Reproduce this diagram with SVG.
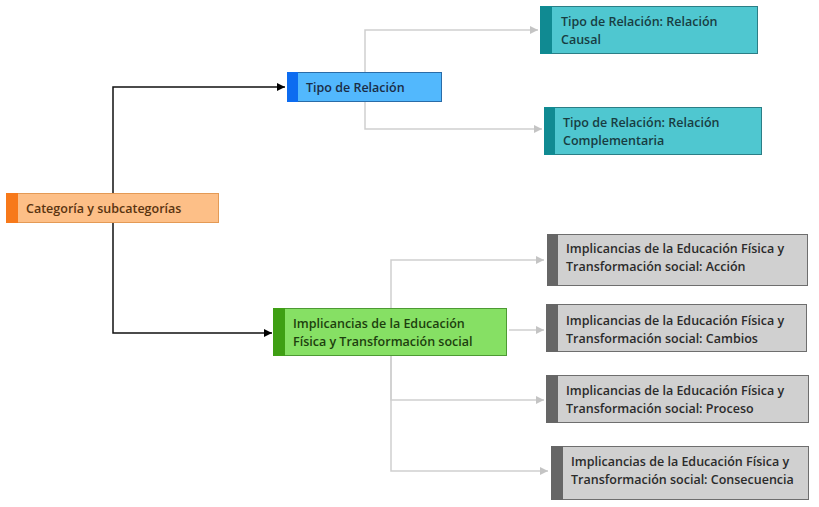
<svg xmlns="http://www.w3.org/2000/svg" width="819" height="507" viewBox="0 0 819 507">
<defs>
<marker id="ab" viewBox="0 0 10 10" refX="10" refY="5" markerWidth="8" markerHeight="8" markerUnits="userSpaceOnUse" orient="auto"><path d="M0,0 L10,5 L0,10 z" fill="#000"/></marker>
<marker id="ag" viewBox="0 0 10 10" refX="10" refY="5" markerWidth="8" markerHeight="9" markerUnits="userSpaceOnUse" orient="auto"><path d="M0,0 L10,5 L0,10 z" fill="#c4c4c4"/></marker>
<style>
text{font-family:"Open Sans","Noto Sans","DejaVu Sans",sans-serif;font-size:12.5px;font-weight:600}
.k{fill:none;stroke:#111;stroke-width:1.5}
.g{fill:none;stroke:#cfcfcf;stroke-width:1.5}
.or rect.b{fill:#fdbf87;stroke:#e49a55}
.or rect.s{fill:#f7791a}
.or text{fill:#5a3410}
.bl rect.b{fill:#52b8fd;stroke:#2a6ca8}
.bl rect.s{fill:#0d6cf0}
.bl text{fill:#1b2c45}
.te rect.b{fill:#4fc7d0;stroke:#2b7e86}
.te rect.s{fill:#108a92}
.te text{fill:#183d42}
.gr rect.b{fill:#86e064;stroke:#4d9a33}
.gr rect.s{fill:#3f9f14}
.gr text{fill:#1d3f0e}
.gy rect.b{fill:#d0d0d0;stroke:#6e6e6e}
.gy rect.s{fill:#666}
.gy text{fill:#2b2b2b}
</style>
</defs>
<g id="connectors">
<path class="k" d="M113,193 V87 H285" marker-end="url(#ab)"/>
<path class="k" d="M113,223 V333 H272" marker-end="url(#ab)"/>
<path class="g" d="M365,102 V30 H538" marker-end="url(#ag)"/>
<path class="g" d="M365,102 V129 H542" marker-end="url(#ag)"/>
<path class="g" d="M391,308 V260 H544" marker-end="url(#ag)"/>
<path class="g" d="M509,330 H544" marker-end="url(#ag)"/>
<path class="g" d="M391,356 V400 H544" marker-end="url(#ag)"/>
<path class="g" d="M391,356 V471 H548" marker-end="url(#ag)"/>
</g>
<g id="root" class="or">
<rect class="b" x="6.5" y="193.5" width="212" height="29"/>
<rect class="s" x="6" y="193" width="12" height="30"/>
<text x="26" y="213">Categoría y subcategorías</text>
</g>
<g id="tipo" class="bl">
<rect class="b" x="287.5" y="72.5" width="154" height="29"/>
<rect class="s" x="287" y="72" width="11" height="30"/>
<text x="306" y="92">Tipo de Relación</text>
</g>
<g id="causal" class="te">
<rect class="b" x="540.5" y="6.5" width="217" height="47"/>
<rect class="s" x="540" y="6" width="12" height="48"/>
<text x="561" y="26">Tipo de Relación: Relación</text>
<text x="561" y="44">Causal</text>
</g>
<g id="complementaria" class="te">
<rect class="b" x="544.5" y="107.5" width="217" height="47"/>
<rect class="s" x="544" y="107" width="11" height="48"/>
<text x="563" y="127">Tipo de Relación: Relación</text>
<text x="563" y="145">Complementaria</text>
</g>
<g id="implicancias" class="gr">
<rect class="b" x="273.5" y="308.5" width="233" height="47"/>
<rect class="s" x="273" y="308" width="12" height="48"/>
<text x="293" y="328">Implicancias de la Educación</text>
<text x="293" y="346">Física y Transformación social</text>
</g>
<g id="accion" class="gy">
<rect class="b" x="547.5" y="234.5" width="260" height="51"/>
<rect class="s" x="547" y="234" width="11" height="52"/>
<text x="566" y="253">Implicancias de la Educación Física y</text>
<text x="566" y="271">Transformación social: Acción</text>
</g>
<g id="cambios" class="gy">
<rect class="b" x="546.5" y="304.5" width="260" height="47"/>
<rect class="s" x="546" y="304" width="12" height="48"/>
<text x="566" y="325">Implicancias de la Educación Física y</text>
<text x="566" y="343">Transformación social: Cambios</text>
</g>
<g id="proceso" class="gy">
<rect class="b" x="546.5" y="375.5" width="262" height="47"/>
<rect class="s" x="546" y="375" width="12" height="48"/>
<text x="566" y="395">Implicancias de la Educación Física y</text>
<text x="566" y="413">Transformación social: Proceso</text>
</g>
<g id="consecuencia" class="gy">
<rect class="b" x="551.5" y="446.5" width="257" height="53"/>
<rect class="s" x="551" y="446" width="12" height="54"/>
<text x="571" y="466">Implicancias de la Educación Física y</text>
<text x="571" y="484">Transformación social: Consecuencia</text>
</g>
</svg>
